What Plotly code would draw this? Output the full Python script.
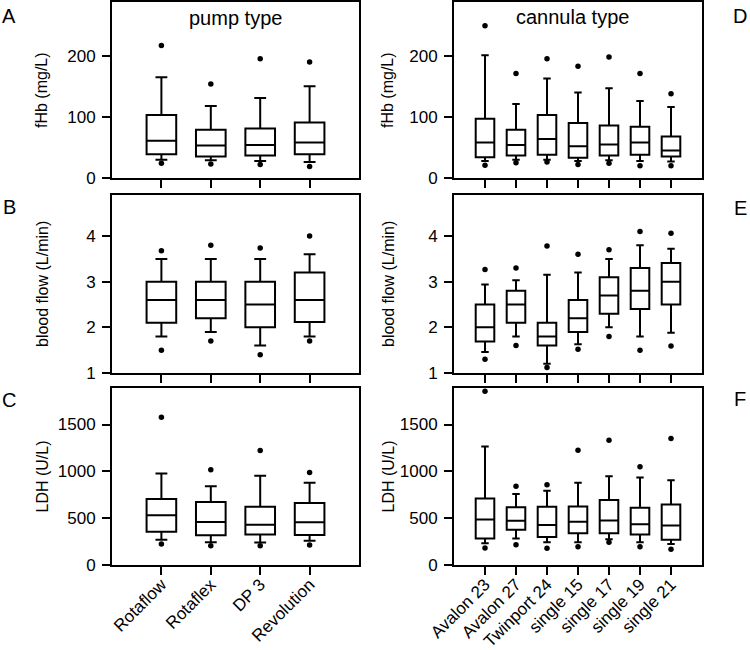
import plotly.graph_objects as go

pumps = ["Rotaflow", "Rotaflex", "DP 3", "Revolution"]
cannulas = ["Avalon 23", "Avalon 27", "Twinport 24", "single 15", "single 17", "single 19", "single 21"]

# fHb (mg/L) by pump type
fhb_pump_q1 = [39, 35, 37, 39]
fhb_pump_med = [61, 53, 54, 58]
fhb_pump_q3 = [103, 79, 81, 91]
fhb_pump_lo = [30, 29, 28, 26]
fhb_pump_hi = [165, 118, 131, 150]
fhb_pump_out_lo = [24, 23, 22, 19]
fhb_pump_out_hi = [217, 154, 195, 190]

# fHb (mg/L) by cannula type
fhb_can_q1 = [34, 37, 38, 33, 37, 38, 35]
fhb_can_med = [58, 54, 64, 52, 55, 58, 45]
fhb_can_q3 = [97, 79, 103, 90, 86, 84, 68]
fhb_can_lo = [28, 30, 30, 28, 29, 28, 27]
fhb_can_hi = [201, 121, 163, 140, 147, 126, 116]
fhb_can_out_lo = [21, 25, 26, 22, 24, 20, 20]
fhb_can_out_hi = [249, 171, 195, 183, 198, 171, 138]

# blood flow (L/min) by pump type
flow_pump_q1 = [2.1, 2.2, 2.0, 2.12]
flow_pump_med = [2.6, 2.6, 2.5, 2.6]
flow_pump_q3 = [3.0, 3.0, 3.0, 3.2]
flow_pump_lo = [1.8, 1.9, 1.6, 1.8]
flow_pump_hi = [3.5, 3.5, 3.5, 3.6]
flow_pump_out_lo = [1.5, 1.7, 1.4, 1.7]
flow_pump_out_hi = [3.68, 3.8, 3.74, 4.0]

# blood flow (L/min) by cannula type
flow_can_q1 = [1.69, 2.1, 1.6, 1.9, 2.3, 2.4, 2.5]
flow_can_med = [2.0, 2.5, 1.8, 2.2, 2.7, 2.8, 3.0]
flow_can_q3 = [2.5, 2.8, 2.1, 2.6, 3.1, 3.3, 3.41]
flow_can_lo = [1.46, 1.8, 1.2, 1.63, 2.0, 1.8, 1.88]
flow_can_hi = [2.94, 3.03, 3.15, 3.2, 3.5, 3.8, 3.72]
flow_can_out_lo = [1.3, 1.6, 1.12, 1.52, 1.8, 1.5, 1.59]
flow_can_out_hi = [3.27, 3.3, 3.78, 3.6, 3.7, 4.1, 4.06]

# LDH (U/L) by pump type
ldh_pump_q1 = [356, 317, 327, 320]
ldh_pump_med = [532, 460, 430, 456]
ldh_pump_q3 = [706, 672, 622, 663]
ldh_pump_lo = [270, 242, 241, 260]
ldh_pump_hi = [977, 842, 952, 878]
ldh_pump_out_lo = [224, 206, 206, 213]
ldh_pump_out_hi = [1578, 1016, 1222, 988]

# LDH (U/L) by cannula type
ldh_can_q1 = [284, 377, 299, 338, 338, 327, 270]
ldh_can_med = [485, 472, 426, 462, 476, 435, 422]
ldh_can_q3 = [711, 617, 622, 625, 695, 611, 647]
ldh_can_lo = [231, 284, 242, 242, 274, 242, 224]
ldh_can_hi = [1265, 757, 792, 877, 948, 934, 906]
ldh_can_out_lo = [181, 217, 178, 196, 242, 196, 167]
ldh_can_out_hi = [1856, 842, 856, 1226, 1333, 1048, 1350]

y_titles = ["fHb (mg/L)", "blood flow (L/min)", "LDH (U/L)"]
y_ranges = [[0, 288], [1, 4.9], [0, 1890]]
y_ticks = [[0, 100, 200], [1, 2, 3, 4], [0, 500, 1000, 1500]]

FONT = "Arial, 'Liberation Sans', sans-serif"
W, H = 750, 650

def px_x(a, b):
    return [a / W, b / W]

def px_y(top, bottom):
    return [1 - bottom / H, 1 - top / H]

col_x = [px_x(112, 359), px_x(454, 702)]
row_y = [px_y(2, 178), px_y(195, 373), px_y(388, 565)]

panels = [
    (0, 0, pumps, fhb_pump_q1, fhb_pump_med, fhb_pump_q3, fhb_pump_lo, fhb_pump_hi, fhb_pump_out_lo, fhb_pump_out_hi),
    (1, 0, pumps, flow_pump_q1, flow_pump_med, flow_pump_q3, flow_pump_lo, flow_pump_hi, flow_pump_out_lo, flow_pump_out_hi),
    (2, 0, pumps, ldh_pump_q1, ldh_pump_med, ldh_pump_q3, ldh_pump_lo, ldh_pump_hi, ldh_pump_out_lo, ldh_pump_out_hi),
    (0, 1, cannulas, fhb_can_q1, fhb_can_med, fhb_can_q3, fhb_can_lo, fhb_can_hi, fhb_can_out_lo, fhb_can_out_hi),
    (1, 1, cannulas, flow_can_q1, flow_can_med, flow_can_q3, flow_can_lo, flow_can_hi, flow_can_out_lo, flow_can_out_hi),
    (2, 1, cannulas, ldh_can_q1, ldh_can_med, ldh_can_q3, ldh_can_lo, ldh_can_hi, ldh_can_out_lo, ldh_can_out_hi),
]

fig = go.Figure()
layout = {}
annotations = []

for i, (r, c, cats, q1, med, q3, lo, hi, olo, ohi) in enumerate(panels):
    k = i + 1
    xa = "x" if k == 1 else f"x{k}"
    ya = "y" if k == 1 else f"y{k}"
    fig.add_trace(go.Box(
        x=cats, q1=q1, median=med, q3=q3, lowerfence=lo, upperfence=hi,
        xaxis=xa, yaxis=ya, width=0.6, whiskerwidth=0.4,
        fillcolor="rgba(0,0,0,0)", line=dict(color="black", width=2),
        boxpoints=False, showlegend=False, hoverinfo="skip",
    ))
    for vals in (olo, ohi):
        fig.add_trace(go.Scatter(
            x=cats, y=vals, mode="markers", xaxis=xa, yaxis=ya,
            marker=dict(color="black", size=5.5), showlegend=False, hoverinfo="skip",
        ))
    n = len(cats)
    layout["xaxis" if k == 1 else f"xaxis{k}"] = dict(
        domain=col_x[c], anchor=ya, type="category", categoryorder="array",
        categoryarray=cats, range=[-1, n], automargin=False,
        showline=True, linecolor="black", linewidth=2, mirror=True,
        ticks="outside", ticklen=8, tickwidth=2, tickcolor="black",
        showticklabels=(r == 2), tickangle=-45, ticklabelstandoff=-7,
        ticklabeloverflow="allow",
        tickfont=dict(family=FONT, size=17, color="black"),
        showgrid=False, zeroline=False, fixedrange=True,
    )
    layout["yaxis" if k == 1 else f"yaxis{k}"] = dict(
        domain=row_y[r], anchor=xa, range=y_ranges[r], tickvals=y_ticks[r],
        automargin=False, ticklabelstandoff=3,
        showline=True, linecolor="black", linewidth=2, mirror=True,
        ticks="outside", ticklen=8, tickwidth=2, tickcolor="black",
        tickfont=dict(family=FONT, size=17, color="black"),
        showgrid=False, zeroline=False, fixedrange=True,
    )
    title_x = 42 if c == 0 else 388
    yc = (row_y[r][0] + row_y[r][1]) / 2
    annotations.append(dict(
        text=y_titles[r], x=title_x / W, y=yc, xref="paper", yref="paper",
        textangle=-90, showarrow=False, xanchor="center", yanchor="middle",
        font=dict(family=FONT, size=16, color="black"),
    ))

letters = [("A", 9, 16), ("B", 9, 207), ("C", 9, 400), ("D", 740, 16), ("E", 740, 208), ("F", 740, 399)]
for t, x, y in letters:
    annotations.append(dict(
        text=t, x=x / W, y=1 - y / H, xref="paper", yref="paper", showarrow=False,
        xanchor="center", yanchor="middle", font=dict(family=FONT, size=20, color="black"),
    ))

annotations.append(dict(text="pump type", x=235 / W, y=1 - 18 / H, xref="paper", yref="paper",
                        showarrow=False, xanchor="center", yanchor="middle",
                        font=dict(family=FONT, size=20, color="black")))
annotations.append(dict(text="cannula type", x=572 / W, y=1 - 17 / H, xref="paper", yref="paper",
                        showarrow=False, xanchor="center", yanchor="middle",
                        font=dict(family=FONT, size=20, color="black")))

fig.update_layout(
    width=W, height=H, margin=dict(l=0, r=0, t=0, b=0, autoexpand=False),
    paper_bgcolor="white", plot_bgcolor="white",
    annotations=annotations, **layout,
)

fig.write_html(
    "out.html",
    config={"displayModeBar": False},
    post_script="document.body.style.margin='0';document.body.style.overflow='hidden';",
)
